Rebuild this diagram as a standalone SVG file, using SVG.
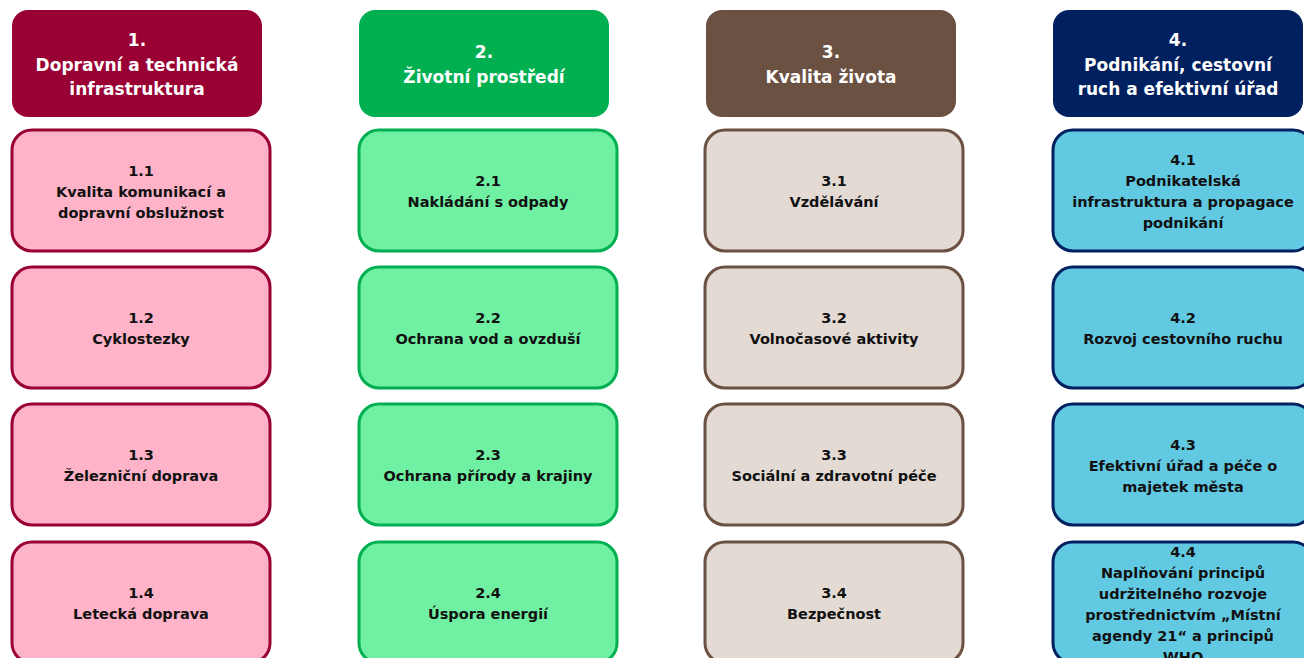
<svg xmlns="http://www.w3.org/2000/svg" width="1304" height="658" viewBox="0 0 1304 658">
<style>
.h{font-family:"DejaVu Sans",sans-serif;font-weight:bold;font-size:17px;fill:#fff;text-anchor:middle}
.s{font-family:"DejaVu Sans",sans-serif;font-weight:bold;font-size:14.5px;fill:#111;text-anchor:middle}
.b{stroke-width:3}
.c1h{fill:#990033}.c1{fill:#FFB3C8;stroke:#990033}
.c2h{fill:#00B050}.c2{fill:#70F0A3;stroke:#00B050}
.c3h{fill:#6B5142}.c3{fill:#E3DAD4;stroke:#6B5142}
.c4h{fill:#002060}.c4{fill:#62C9E3;stroke:#002060}
</style>
<rect width="1304" height="658" fill="#fff"/>
<g id="connectors"/>
<g id="h1"><rect class="c1h" x="12" y="10" width="250" height="107" rx="16"/>
<text class="h" x="137" y="46">1.</text><text class="h" x="137" y="71">Dopravní a technická</text><text class="h" x="137" y="95">infrastruktura</text></g>
<g id="h2"><rect class="c2h" x="359" y="10" width="250" height="107" rx="16"/>
<text class="h" x="484" y="58">2.</text><text class="h" x="484" y="83">Životní prostředí</text></g>
<g id="h3"><rect class="c3h" x="706" y="10" width="250" height="107" rx="16"/>
<text class="h" x="831" y="58">3.</text><text class="h" x="831" y="83">Kvalita života</text></g>
<g id="h4"><rect class="c4h" x="1053" y="10" width="250" height="107" rx="16"/>
<text class="h" x="1178" y="46">4.</text><text class="h" x="1178" y="71">Podnikání, cestovní</text><text class="h" x="1178" y="95">ruch a efektivní úřad</text></g>

<g id="n11"><rect class="b c1" x="12" y="130" width="258" height="121" rx="20"/>
<text class="s" x="141" y="176">1.1</text><text class="s" x="141" y="197">Kvalita komunikací a</text><text class="s" x="141" y="218">dopravní obslužnost</text></g>
<g id="n12"><rect class="b c1" x="12" y="267" width="258" height="121" rx="20"/>
<text class="s" x="141" y="323">1.2</text><text class="s" x="141" y="344">Cyklostezky</text></g>
<g id="n13"><rect class="b c1" x="12" y="404" width="258" height="121" rx="20"/>
<text class="s" x="141" y="460">1.3</text><text class="s" x="141" y="481">Železniční doprava</text></g>
<g id="n14"><rect class="b c1" x="12" y="542" width="258" height="121" rx="20"/>
<text class="s" x="141" y="598">1.4</text><text class="s" x="141" y="619">Letecká doprava</text></g>

<g id="n21"><rect class="b c2" x="359" y="130" width="258" height="121" rx="20"/>
<text class="s" x="488" y="186">2.1</text><text class="s" x="488" y="207">Nakládání s odpady</text></g>
<g id="n22"><rect class="b c2" x="359" y="267" width="258" height="121" rx="20"/>
<text class="s" x="488" y="323">2.2</text><text class="s" x="488" y="344">Ochrana vod a ovzduší</text></g>
<g id="n23"><rect class="b c2" x="359" y="404" width="258" height="121" rx="20"/>
<text class="s" x="488" y="460">2.3</text><text class="s" x="488" y="481">Ochrana přírody a krajiny</text></g>
<g id="n24"><rect class="b c2" x="359" y="542" width="258" height="121" rx="20"/>
<text class="s" x="488" y="598">2.4</text><text class="s" x="488" y="619">Úspora energií</text></g>

<g id="n31"><rect class="b c3" x="705" y="130" width="258" height="121" rx="20"/>
<text class="s" x="834" y="186">3.1</text><text class="s" x="834" y="207">Vzdělávání</text></g>
<g id="n32"><rect class="b c3" x="705" y="267" width="258" height="121" rx="20"/>
<text class="s" x="834" y="323">3.2</text><text class="s" x="834" y="344">Volnočasové aktivity</text></g>
<g id="n33"><rect class="b c3" x="705" y="404" width="258" height="121" rx="20"/>
<text class="s" x="834" y="460">3.3</text><text class="s" x="834" y="481">Sociální a zdravotní péče</text></g>
<g id="n34"><rect class="b c3" x="705" y="542" width="258" height="121" rx="20"/>
<text class="s" x="834" y="598">3.4</text><text class="s" x="834" y="619">Bezpečnost</text></g>

<g id="n41"><rect class="b c4" x="1053" y="130" width="260" height="121" rx="20"/>
<text class="s" x="1183" y="165">4.1</text><text class="s" x="1183" y="186">Podnikatelská</text><text class="s" x="1183" y="207">infrastruktura a propagace</text><text class="s" x="1183" y="228">podnikání</text></g>
<g id="n42"><rect class="b c4" x="1053" y="267" width="260" height="121" rx="20"/>
<text class="s" x="1183" y="323">4.2</text><text class="s" x="1183" y="344">Rozvoj cestovního ruchu</text></g>
<g id="n43"><rect class="b c4" x="1053" y="404" width="260" height="121" rx="20"/>
<text class="s" x="1183" y="450">4.3</text><text class="s" x="1183" y="471">Efektivní úřad a péče o</text><text class="s" x="1183" y="492">majetek města</text></g>
<g id="n44"><rect class="b c4" x="1053" y="542" width="260" height="121" rx="20"/>
<text class="s" x="1183" y="557">4.4</text><text class="s" x="1183" y="578">Naplňování principů</text><text class="s" x="1183" y="599">udržitelného rozvoje</text><text class="s" x="1183" y="620">prostřednictvím „Místní</text><text class="s" x="1183" y="641">agendy 21“ a principů</text><text class="s" x="1183" y="662">WHO</text></g>
</svg>
